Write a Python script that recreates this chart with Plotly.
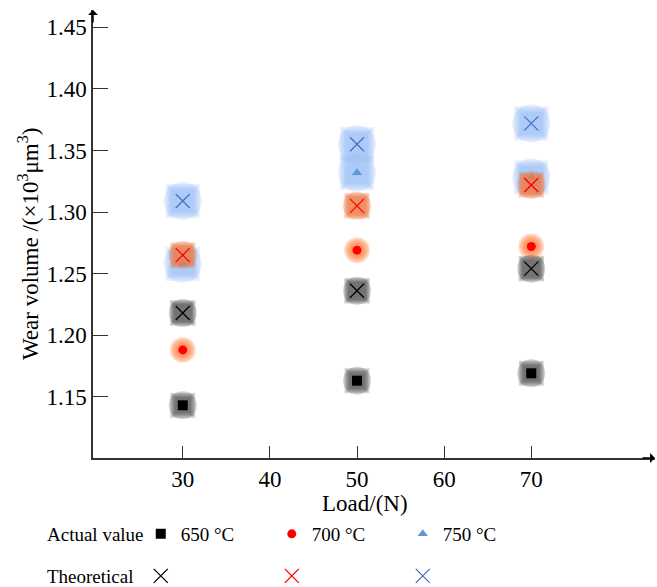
import plotly.graph_objects as go

# ---------------- data ----------------
loads = [30, 50, 70]
actual_650 = [1.143, 1.163, 1.169]
actual_700 = [1.188, 1.269, 1.272]
actual_750 = [1.258, 1.332, 1.328]
theo_650 = [1.218, 1.236, 1.254]
theo_700 = [1.265, 1.305, 1.322]
theo_750 = [1.309, 1.355, 1.372]
temp_labels = ["650 °C", "700 °C", "750 °C"]
y_ticks = [1.15, 1.20, 1.25, 1.30, 1.35, 1.40, 1.45]
x_ticks = [30, 40, 50, 60, 70]

FONT = "Liberation Serif"
fig = go.Figure()


def glow(x, y, color, base, symbol="square", spread=12, opacity=0.22, n=5):
    # soft halo built from stacked translucent markers
    for i in range(n):
        s = base + spread * (1 - i / (n - 1))
        sym = "circle" if (i == 0 and symbol == "square") else symbol
        fig.add_trace(go.Scatter(
            x=x, y=y, mode="markers", hoverinfo="skip", showlegend=False,
            marker=dict(symbol=sym, size=s, color=color, opacity=opacity,
                        line=dict(width=0)),
        ))


def theo(x, y, color, name, legend):
    fig.add_trace(go.Scatter(
        x=x, y=y, mode="markers", name=name, legend=legend,
        marker=dict(symbol="x-thin", size=14, color=color,
                    line=dict(width=1.3, color=color)),
    ))


def actual(x, y, color, name, symbol, size):
    fig.add_trace(go.Scatter(
        x=x, y=y, mode="markers", name=name, legend="legend",
        marker=dict(symbol=symbol, size=size, color=color, line=dict(width=0)),
    ))


# 750 °C (blue)
glow(loads, actual_750, "#8DB6F6", 22, spread=16)
actual(loads, actual_750, "#5B9BD5", temp_labels[2], "triangle-up", 9)
glow(loads, theo_750, "#8DB6F6", 22, spread=16)
# 700 °C (red / orange)
glow(loads, actual_700, "#FF8040", 14, symbol="circle", spread=12, opacity=0.26)
actual(loads, actual_700, "#FF0000", temp_labels[1], "circle", 9)
glow(loads, theo_700, "#EE7A45", 18, spread=10, opacity=0.3)
# 650 °C (black)
glow(loads, actual_650, "#3A3A3A", 16, spread=12)
actual(loads, actual_650, "#000000", temp_labels[0], "square", 10)
glow(loads, theo_650, "#3A3A3A", 18, spread=10)

theo(loads, theo_650, "#000000", " ", "legend2")
theo(loads, theo_700, "#FF0000", " ", "legend2")
theo(loads, theo_750, "#4472C4", " ", "legend2")

for tr in fig.data:
    if tr.name in temp_labels:
        tr.legendrank = 1000 + temp_labels.index(tr.name)

XR = [19.7, 84.2]
YR = [1.1002, 1.4641]

fig.update_layout(
    width=657, height=587,
    margin=dict(l=93, r=2, t=10, b=129, autoexpand=False),
    plot_bgcolor="white", paper_bgcolor="white",
    font=dict(family=FONT, size=23, color="black"),
    xaxis=dict(range=XR, tickvals=x_ticks, showline=True, linecolor="#333",
               linewidth=1.5, ticks="inside", ticklen=12, tickwidth=1.3,
               tickcolor="#333", showgrid=False, zeroline=False,
               tickfont=dict(family=FONT, size=23)),
    yaxis=dict(range=YR, tickvals=y_ticks, tickformat=".2f", showline=True,
               linecolor="#333", linewidth=1.5, ticks="inside", ticklen=15,
               tickwidth=1.3, tickcolor="#333", showgrid=False, zeroline=False,
               tickfont=dict(family=FONT, size=23)),
    legend=dict(orientation="h", x=0.085, xanchor="left", y=(458 - 534) / 448,
                yanchor="middle", font=dict(family=FONT, size=19),
                entrywidth=86, traceorder="normal", bgcolor="rgba(0,0,0,0)"),
    legend2=dict(orientation="h", x=0.085, xanchor="left", y=(458 - 576) / 448,
                 yanchor="middle", font=dict(family=FONT, size=19),
                 entrywidth=86, traceorder="normal", bgcolor="rgba(0,0,0,0)"),
    showlegend=True,
)

# axis titles
fig.add_annotation(text="Load/(N)", xref="paper", yref="paper", x=(365 - 93) / 562,
                   y=(458 - 503) / 448, showarrow=False, xanchor="center",
                   yanchor="middle", font=dict(family=FONT, size=23))
fig.add_annotation(text="Wear volume /(×10<sup>3</sup>μm<sup>3</sup>)", xref="paper",
                   yref="paper", x=(28 - 93) / 562, y=(458 - 244) / 448,
                   textangle=-90, showarrow=False, xanchor="center",
                   yanchor="middle", font=dict(family=FONT, size=23))
# legend row labels
fig.add_annotation(text="Actual value", xref="paper", yref="paper", x=(45 - 93) / 562,
                   y=(458 - 534) / 448, showarrow=False, xanchor="left",
                   yanchor="middle", font=dict(family=FONT, size=19))
fig.add_annotation(text="Theoretical", xref="paper", yref="paper", x=(45 - 93) / 562,
                   y=(458 - 576) / 448, showarrow=False, xanchor="left",
                   yanchor="middle", font=dict(family=FONT, size=19))
# axis arrowheads
fig.add_annotation(x=XR[1], y=YR[0], ax=-14, ay=0, text="", showarrow=True,
                   arrowhead=1, arrowsize=1.1, arrowwidth=1.5, arrowcolor="black")
fig.add_annotation(x=XR[0], y=YR[1], ax=0, ay=14, text="", showarrow=True,
                   arrowhead=1, arrowsize=1.1, arrowwidth=1.5, arrowcolor="black")

fig.write_html("out.html")
